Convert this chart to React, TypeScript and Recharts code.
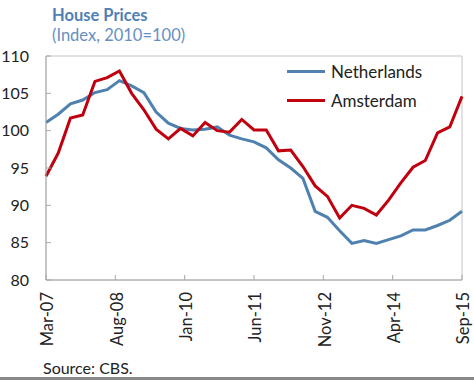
import { LineChart, Line, XAxis, YAxis, ReferenceArea } from 'recharts'

// ── Data (quarterly, starting Mar-07) ──────────────────────────────────────

const NETHERLANDS = [
  101.1, 102.2, 103.6, 104.1, 105.1, 105.5, 106.7, 106.0, 105.1, 102.5,
  101.0, 100.3, 100.1, 100.2, 100.5, 99.4, 98.9, 98.5, 97.7, 96.1,
  95.0, 93.6, 89.2, 88.4, 86.6, 84.9, 85.3, 84.9, 85.4, 85.9,
  86.7, 86.7, 87.3, 88.0, 89.2,
]

const AMSTERDAM = [
  93.9, 97.0, 101.7, 102.1, 106.6, 107.1, 108.0, 105.0, 102.8, 100.2,
  98.9, 100.3, 99.3, 101.1, 100.0, 99.8, 101.5, 100.1, 100.1, 97.3,
  97.4, 95.2, 92.6, 91.2, 88.3, 90.0, 89.6, 88.7, 90.7, 93.0,
  95.1, 96.0, 99.7, 100.5, 104.6,
]

// months since Mar-07 for the tick labels
const X_TICKS = [0, 17, 34, 51, 68, 85, 102]
const X_TICK_LABELS = ['Mar-07', 'Aug-08', 'Jan-10', 'Jun-11', 'Nov-12', 'Apr-14', 'Sep-15']
const Y_TICKS = [80, 85, 90, 95, 100, 105, 110]

const SERIES = [
  { key: 'nl', name: 'Netherlands', color: '#4f81b0' },
  { key: 'ams', name: 'Amsterdam', color: '#c0000f' },
]

const data = NETHERLANDS.map((v, i) => ({ m: i * 3, nl: v, ams: AMSTERDAM[i] }))

const FONT = 'Lato, "Open Sans", sans-serif'
const AXIS = '#a8a8a8'

function XTick({ x, payload }: any) {
  const label = X_TICK_LABELS[X_TICKS.indexOf(payload.value)] ?? ''
  return (
    <g transform={`translate(${x + 1.5},${292})`}>
      <text transform="rotate(-90)" textAnchor="end" dy="0.35em" fontSize={16.5} fill="#222" fontFamily={FONT}>
        {label}
      </text>
    </g>
  )
}

function ChartLegend() {
  return (
    <div style={{ position: 'absolute', left: 287, top: 57, fontSize: 17, color: '#222' }}>
      {SERIES.map(s => (
        <div key={s.key} style={{ display: 'flex', alignItems: 'center', height: 29 }}>
          <span style={{ display: 'inline-block', width: 38, height: 3, background: s.color, marginRight: 6 }} />
          <span>{s.name}</span>
        </div>
      ))}
    </div>
  )
}

export default function App() {
  return (
    <div style={{ position: 'absolute', left: 0, top: 0, width: 474, height: 380, background: '#fff', fontFamily: FONT }}>
      <div style={{ position: 'absolute', left: 52, top: 5, fontSize: 16.5, fontWeight: 700, color: '#4f7fb5' }}>
        House Prices
      </div>
      <div style={{ position: 'absolute', left: 52, top: 25, fontSize: 16.5, color: '#6690c4' }}>
        (Index, 2010=100)
      </div>

      <LineChart width={474} height={380} data={data} margin={{ top: 56, right: 12, bottom: 0, left: 0 }}>
        <XAxis
          dataKey="m"
          type="number"
          domain={[0, 102]}
          ticks={X_TICKS}
          height={100}
          tick={<XTick />}
          tickSize={-5}
          tickMargin={0}
          stroke={AXIS}
          interval={0}
        />
        <YAxis
          domain={[80, 110]}
          ticks={Y_TICKS}
          width={46}
          tickSize={-5}
          tickMargin={22}
          stroke={AXIS}
          tick={{ fontSize: 16, fill: '#222', fontFamily: FONT }}
          interval={0}
        />
        <ReferenceArea x1={0} x2={102} y1={80} y2={110} fill="none" stroke="#c4c4c4" strokeWidth={1} />
        {SERIES.map(s => (
          <Line
            key={s.key}
            type="linear"
            dataKey={s.key}
            name={s.name}
            stroke={s.color}
            strokeWidth={3}
            dot={false}
            isAnimationActive={false}
          />
        ))}
      </LineChart>
      <ChartLegend />

      <div style={{ position: 'absolute', left: 43, top: 358, fontSize: 16, color: '#222' }}>
        Source: CBS.
      </div>
      <div style={{ position: 'absolute', left: 0, top: 377, width: 474, height: 3, background: '#888' }} />
    </div>
  )
}
